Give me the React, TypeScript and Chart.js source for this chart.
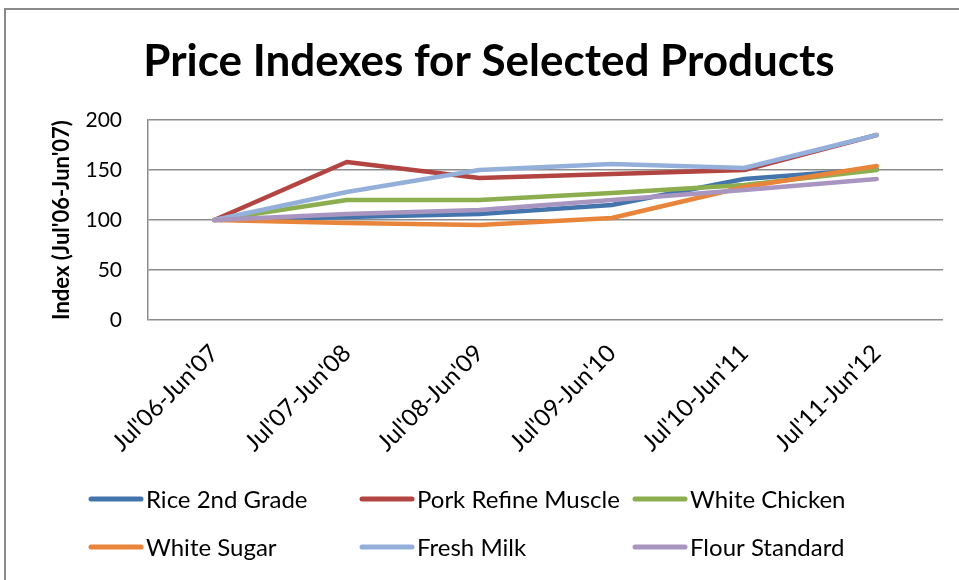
import React, { useEffect, useRef } from "react";
import { Chart, registerables } from "chart.js";

Chart.register(...registerables);

const categories = ["Jul'06-Jun'07", "Jul'07-Jun'08", "Jul'08-Jun'09", "Jul'09-Jun'10", "Jul'10-Jun'11", "Jul'11-Jun'12"];
const riceValues = [100, 103, 106, 115, 141, 151];
const porkValues = [100, 158, 142, 146, 150, 185];
const chickenValues = [100, 120, 120, 127, 135, 150];
const sugarValues = [100, 97, 95, 102, 133, 154];
const milkValues = [100, 128, 150, 156, 152, 185];
const flourValues = [100, 106, 110, 120, 130, 141];
const seriesNames = ["Rice 2nd Grade", "Pork Refine Muscle", "White Chicken", "White Sugar", "Fresh Milk", "Flour Standard"];
const seriesColors = ["#4474AC", "#B24541", "#8CAE4E", "#E8853A", "#94B0DA", "#A896C0"];
const yTicks = [0, 50, 100, 150, 200];
const chartTitle = "Price Indexes for Selected Products";
const yAxisTitle = "Index (Jul'06-Jun'07)";

const FONT = "Lato, 'Open Sans', sans-serif";

const decorPlugin = {
  id: "decor",
  beforeDraw(chart: any) {
    const ctx = chart.ctx;
    ctx.save();
    ctx.fillStyle = "#ffffff";
    ctx.fillRect(0, 0, chart.width, chart.height);
    ctx.strokeStyle = "#8a8a8a";
    ctx.lineWidth = 2;
    ctx.strokeRect(5, 9, chart.width + 20, chart.height + 20);
    ctx.restore();
  },
  afterDraw(chart: any) {
    const ctx = chart.ctx;
    ctx.save();
    ctx.fillStyle = "#000000";
    ctx.font = `bold 44px ${FONT}`;
    ctx.textAlign = "center";
    ctx.textBaseline = "alphabetic";
    ctx.fillText(chartTitle, 489, 76);

    const cols = [89, 360, 633];
    const rows = [499, 547];
    ctx.font = `24px ${FONT}`;
    ctx.textBaseline = "middle";
    ctx.textAlign = "left";
    chart.data.datasets.forEach((ds: any, i: number) => {
      const x = cols[i % 3];
      const y = rows[Math.floor(i / 3)];
      ctx.strokeStyle = ds.borderColor;
      ctx.lineWidth = 5;
      ctx.lineCap = "round";
      ctx.beginPath();
      ctx.moveTo(x + 2, y);
      ctx.lineTo(x + 52, y);
      ctx.stroke();
      ctx.fillStyle = "#000000";
      ctx.fillText(ds.label, x + 57, y + 1);
    });
    ctx.restore();
  },
};

export default function App() {
  const canvasRef = useRef<HTMLCanvasElement | null>(null);

  useEffect(() => {
    document.body.style.margin = "0";
    const series = [riceValues, porkValues, chickenValues, sugarValues, milkValues, flourValues];
    const chart = new Chart(canvasRef.current as HTMLCanvasElement, {
      type: "line",
      data: {
        labels: categories,
        datasets: series.map((values, i) => ({
          label: seriesNames[i],
          data: values,
          borderColor: seriesColors[i],
          backgroundColor: seriesColors[i],
          borderWidth: 4.5,
          pointRadius: 0,
          tension: 0,
          borderCapStyle: "round" as const,
          borderJoinStyle: "round" as const,
          order: series.length - 1 - i,
        })),
      },
      options: {
        animation: false,
        responsive: true,
        maintainAspectRatio: false,
        layout: { padding: { top: 120, right: 16, bottom: 100, left: 0 } },
        plugins: {
          legend: { display: false },
          title: { display: false },
          tooltip: { enabled: false },
        },
        scales: {
          x: {
            type: "category",
            offset: true,
            grid: { display: false, drawTicks: false },
            border: { display: false },
            ticks: {
              color: "#000",
              font: { family: FONT, size: 24 },
              minRotation: 45,
              maxRotation: 45,
              autoSkip: false,
              padding: 19,
            },
            afterFit: (scale: any) => {
              scale.height = 160;
            },
          },
          y: {
            min: 0,
            max: 200,
            afterBuildTicks: (scale: any) => {
              scale.ticks = yTicks.map((v) => ({ value: v }));
            },
            grid: { color: "#8c8c8c", lineWidth: 1.5, drawTicks: false },
            border: { display: true, color: "#8c8c8c", width: 1.5 },
            ticks: {
              color: "#000",
              font: { family: FONT, size: 21 },
              padding: 26,
            },
            title: {
              display: true,
              text: yAxisTitle,
              color: "#000",
              font: { family: FONT, size: 22, weight: "bold" },
              padding: { top: 49, bottom: 0 },
            },
            afterFit: (scale: any) => {
              scale.width = 148;
            },
          },
        },
      },
      plugins: [decorPlugin],
    });
    return () => chart.destroy();
  }, []);

  return (
    <div style={{ position: "fixed", left: 0, top: 0, width: 959, height: 580 }}>
      <canvas ref={canvasRef} />
    </div>
  );
}
